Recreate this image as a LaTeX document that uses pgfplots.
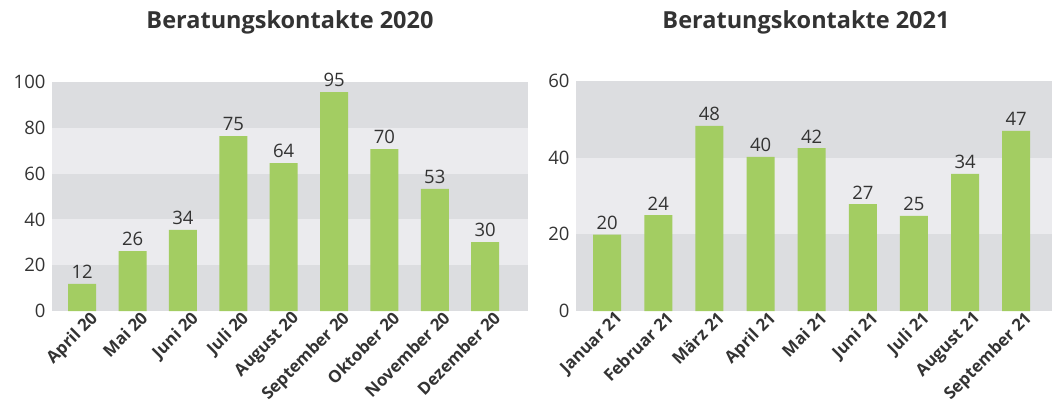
\documentclass[border=0pt]{standalone}
\usepackage{pgfplots}
\pgfplotsset{compat=1.18}
\usepackage{fontspec}
\setmainfont{Open Sans}
\definecolor{barc}{HTML}{A3CD62}
\definecolor{bandD}{HTML}{DCDDE0}
\definecolor{bandL}{HTML}{EBEBEE}
\definecolor{txt}{HTML}{333333}
\pgfplotsset{mystyle/.style={
  scale only axis, width=476pt,
  axis line style={draw=none}, major tick length=0pt,
  ymin=0, xtick=data, ybar, bar width=28pt,
  enlarge y limits=false,
  tick label style={font=\fontsize{18.5}{18.5}\selectfont, text=txt},
  y tick label style={xshift=-3pt},
  x tick label style={rotate=45, anchor=north east, font=\bfseries\fontsize{16.8}{16.8}\selectfont, text=txt, xshift=9pt, yshift=-1pt},
  nodes near coords, point meta=explicit symbolic,
  nodes near coords style={font=\fontsize{18.5}{18.5}\selectfont, text=txt, yshift=1.5pt},
  /pgf/number format/assume math mode=true,
  clip=false,
}}
\begin{document}
\begin{tikzpicture}
\useasboundingbox (0pt,0pt) rectangle (1054pt,410pt);
\node[font=\bfseries\fontsize{23.5}{23.5}\selectfont, text=txt] at (290pt,388pt) {Beratungskontakte 2020};
\node[font=\bfseries\fontsize{23.5}{23.5}\selectfont, text=txt] at (806pt,388pt) {Beratungskontakte 2021};
\begin{axis}[mystyle, at={(52pt,99pt)}, anchor=south west, height=229pt,
  xmin=-0.6, xmax=8.85, ymax=100, ytick={0,20,40,60,80,100},
  xticklabels={April 20,Mai 20,Juni 20,Juli 20,August 20,September 20,Oktober 20,November 20,Dezember 20}]
\fill[bandD] (axis cs:-0.6,0) rectangle (axis cs:8.85,20);
\fill[bandL] (axis cs:-0.6,20) rectangle (axis cs:8.85,40);
\fill[bandD] (axis cs:-0.6,40) rectangle (axis cs:8.85,60);
\fill[bandL] (axis cs:-0.6,60) rectangle (axis cs:8.85,80);
\fill[bandD] (axis cs:-0.6,80) rectangle (axis cs:8.85,100);
\addplot[fill=barc, draw=none] table[meta=label] {
x y label
0 11.8 12
1 26.2 26
2 35.4 34
3 76.4 75
4 64.6 64
5 95.6 95
6 70.7 70
7 53.3 53
8 30.1 30
};
\end{axis}
\begin{axis}[mystyle, at={(576pt,99pt)}, anchor=south west, height=230pt,
  xmin=-0.61, xmax=8.7, ymax=60, ytick={0,20,40,60},
  xticklabels={Januar 21,Februar 21,März 21,April 21,Mai 21,Juni 21,Juli 21,August 21,September 21}]
\fill[bandD] (axis cs:-0.61,0) rectangle (axis cs:8.7,20);
\fill[bandL] (axis cs:-0.61,20) rectangle (axis cs:8.7,40);
\fill[bandD] (axis cs:-0.61,40) rectangle (axis cs:8.7,60);
\addplot[fill=barc, draw=none] table[meta=label] {
x y label
0 19.9 20
1 25.0 24
2 48.3 48
3 40.2 40
4 42.5 42
5 27.9 27
6 24.8 25
7 35.8 34
8 47.0 47
};
\end{axis}
\end{tikzpicture}
\end{document}
